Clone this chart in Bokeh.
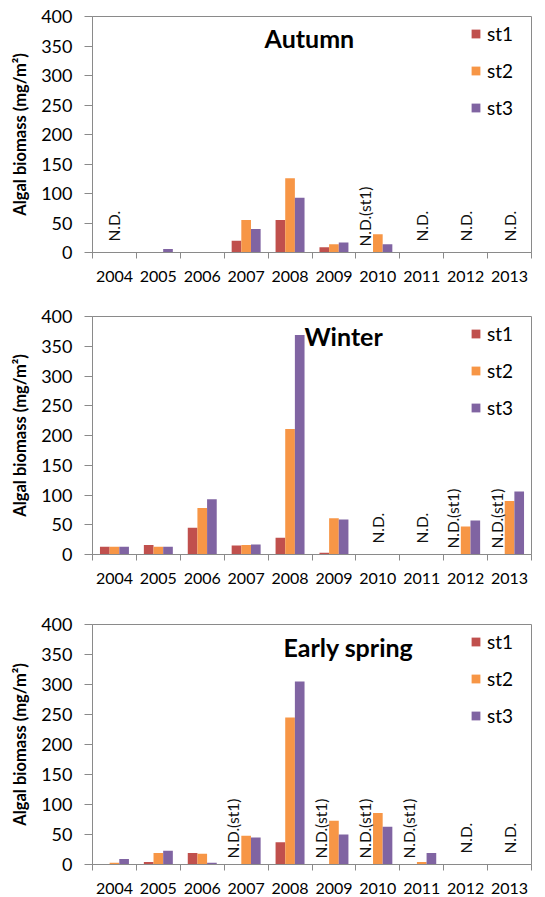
import numpy as np
from bokeh.plotting import figure
from bokeh.models import Range1d, FixedTicker, ColumnDataSource, Label
from bokeh.layouts import column
from bokeh.embed import file_html
from bokeh.resources import INLINE
from bokeh.core.properties import value
from bokeh.transform import dodge

# ---------------- data ----------------
years = ["2004", "2005", "2006", "2007", "2008", "2009", "2010", "2011", "2012", "2013"]
y_ticks = [0, 50, 100, 150, 200, 250, 300, 350, 400]
stations = ["st1", "st2", "st3"]

autumn_st1 = [0, 1, 1, 20, 55, 9, 0, 0, 0, 0]
autumn_st2 = [0, 1, 1, 55, 126, 14, 31, 0, 0, 0]
autumn_st3 = [0, 6, 1, 40, 93, 17, 14, 0, 0, 0]
autumn_nd = ["N.D.", "", "", "", "", "", "N.D.(st1)", "N.D.", "N.D.", "N.D."]

winter_st1 = [13, 16, 45, 15, 28, 3, 0, 0, 0, 0]
winter_st2 = [13, 13, 78, 16, 211, 61, 0, 0, 47, 90]
winter_st3 = [13, 13, 93, 17, 369, 59, 0, 0, 57, 106]
winter_nd = ["", "", "", "", "", "", "N.D.", "N.D.", "N.D.(st1)", "N.D.(st1)"]

spring_st1 = [0, 4, 19, 0, 37, 0, 0, 0, 0, 0]
spring_st2 = [3, 19, 18, 48, 245, 73, 86, 4, 0, 0]
spring_st3 = [9, 23, 3, 45, 305, 50, 63, 19, 0, 0]
spring_nd = ["", "", "", "N.D.(st1)", "", "N.D.(st1)", "N.D.(st1)", "N.D.(st1)", "N.D.", "N.D."]

# ---------------- style ----------------
COLORS = ["#C0504D", "#F79646", "#8064A2"]
OFFSETS = [-0.22, 0.0, 0.22]
BAR_W = 0.22
FONT = "Lato"
GRAY = "#8a8a8a"
Y_LABEL = "Algal biomass (mg/m\u00b2)"


def make_panel(title, s1, s2, s3, nd, height, top, bottom, right, tx, ty, standoff):
    n = len(years)
    idx = list(range(n))
    p = figure(width=545, height=height,
               x_range=Range1d(-0.5, n - 0.5), y_range=Range1d(0, 400),
               output_backend="svg", toolbar_location=None,
               min_border_left=92, min_border_right=right,
               min_border_top=top, min_border_bottom=bottom)
    p.background_fill_color = "white"
    p.border_fill_color = "white"
    p.outline_line_color = GRAY
    p.outline_line_width = 1
    p.xgrid.visible = False
    p.ygrid.visible = False

    src = ColumnDataSource(dict(x=idx, st1=s1, st2=s2, st3=s3))
    for name, col, off in zip(stations, COLORS, OFFSETS):
        p.vbar(x=dodge("x", off, range=p.x_range), top=name, bottom=0,
               width=BAR_W, source=src, fill_color=col, line_color=None,
               legend_label=name)

    # N.D. annotations
    for kind, xoff, yoff in (("N.D.", 0.0, -11), ("N.D.(st1)", -0.29, -6)):
        xs = [i + xoff for i, t in enumerate(nd) if t == kind]
        if not xs:
            continue
        tsrc = ColumnDataSource(dict(x=xs, y=[0] * len(xs), text=[kind] * len(xs)))
        p.text(x="x", y="y", text="text", source=tsrc, angle=np.pi / 2,
               y_offset=yoff, text_align="left", text_baseline="middle",
               text_font=value(FONT), text_font_size="15.5px", text_color="#111111")

    # title inside
    p.add_layout(Label(x=tx, y=ty, text=title, text_font=FONT,
                       text_font_size="25px", text_font_style="bold",
                       text_align="center", text_baseline="middle",
                       text_color="black"))

    # x axis
    xa = p.xaxis[0]
    xa.ticker = FixedTicker(ticks=idx, minor_ticks=[i - 0.5 for i in range(n + 1)])
    xa.major_label_overrides = {i: y for i, y in enumerate(years)}
    xa.major_tick_out = 0
    xa.major_tick_in = 0
    xa.minor_tick_out = 6
    xa.minor_tick_in = 0
    xa.minor_tick_line_color = GRAY
    xa.axis_line_color = GRAY
    xa.major_label_standoff = standoff
    xa.major_label_text_font = FONT
    xa.major_label_text_font_size = "16px"
    xa.major_label_text_color = "black"

    # y axis
    ya = p.yaxis[0]
    ya.ticker = FixedTicker(ticks=y_ticks, minor_ticks=[])
    ya.major_tick_out = 8
    ya.major_tick_in = 0
    ya.major_tick_line_color = GRAY
    ya.axis_line_color = GRAY
    ya.major_label_standoff = 12
    ya.major_label_text_font = FONT
    ya.major_label_text_font_size = "18px"
    ya.major_label_text_color = "black"
    ya.axis_label = Y_LABEL
    ya.axis_label_text_font = FONT
    ya.axis_label_text_font_size = "16.5px"
    ya.axis_label_text_font_style = "bold"
    ya.axis_label_text_color = "black"
    ya.axis_label_standoff = 8

    # legend
    lg = p.legend[0]
    lg.location = "top_right"
    lg.margin = 6
    lg.padding = 14
    lg.spacing = 14
    lg.glyph_width = 11
    lg.glyph_height = 11
    lg.label_standoff = 6
    lg.label_width = 38
    lg.label_height = 20
    lg.label_text_font = FONT
    lg.label_text_font_size = "19px"
    lg.label_text_color = "black"
    lg.border_line_color = None
    lg.background_fill_alpha = 0
    return p


p1 = make_panel("Autumn", autumn_st1, autumn_st2, autumn_st3, autumn_nd,
                height=300, top=16, bottom=48, right=14, tx=4.44, ty=363, standoff=12)
p2 = make_panel("Winter", winter_st1, winter_st2, winter_st3, winter_nd,
                height=294, top=16, bottom=40, right=7, tx=5.22, ty=368, standoff=12)
p3 = make_panel("Early spring", spring_st1, spring_st2, spring_st3, spring_nd,
                height=302, top=30, bottom=32, right=5, tx=5.33, ty=362, standoff=12)

layout = column(p1, p2, p3)
open("out.html", "w").write(file_html(layout, INLINE, title="Algal biomass"))
